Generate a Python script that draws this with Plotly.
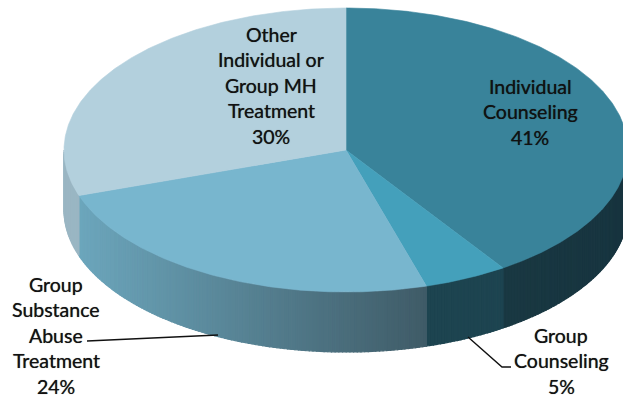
import math
import plotly.graph_objects as go

categories = ["Individual Counseling", "Group Counseling", "Group Substance Abuse Treatment", "Other Individual or Group MH Treatment"]
shares = [40.6, 4.8, 24.4, 30.2]
top_colors = ["#39839A", "#44A0BB", "#78B6CE", "#B3D0DD"]
wall_left = ["#193842", "#1D4450", "#6CA6BC", "#9AB6C3"]
wall_right = ["#17343F", "#1D4450", "#3F5B67", "#9AB6C3"]
label_lines = [
    ["Individual", "Counseling"],
    ["Group", "Counseling"],
    ["Group", "Substance", "Abuse", "Treatment"],
    ["Other", "Individual or", "Group MH", "Treatment"],
]
label_x = [530, 561, 56, 271]
label_y_start = [86, 335, 284, 34]
line_step = 25.6

CX, CY, RX, RY, DEPTH = 346, 150, 282, 142, 60


def pt(deg, dy=0):
    a = math.radians(deg)
    return CX + RX * math.sin(a), CY - RY * math.cos(a) + dy


def mix(c1, c2, t):
    a = [int(c1[i:i + 2], 16) for i in (1, 3, 5)]
    b = [int(c2[i:i + 2], 16) for i in (1, 3, 5)]
    return "#%02X%02X%02X" % tuple(round(p + (q - p) * t) for p, q in zip(a, b))


def arc(a0, a1, n=None, dy=0):
    n = n or max(2, int(abs(a1 - a0)) * 2)
    return [pt(a0 + (a1 - a0) * i / n, dy) for i in range(n + 1)]


def poly(fig, pts, color, width=0.6):
    fig.add_trace(go.Scatter(
        x=[p[0] for p in pts] + [pts[0][0]],
        y=[p[1] for p in pts] + [pts[0][1]],
        mode="lines", fill="toself", fillcolor=color,
        line=dict(color=color, width=width),
        hoverinfo="skip", showlegend=False,
    ))


fig = go.Figure()
total = sum(shares)
edges = [0]
for s in shares:
    edges.append(edges[-1] + 360 * s / total)

# front walls (visible part of the rim, 90..270 degrees clockwise from top)
for i in range(len(shares)):
    lo, hi = max(edges[i], 90), min(edges[i + 1], 270)
    if hi <= lo:
        continue
    x_a, x_b = pt(lo)[0], pt(hi)[0]
    x_min, x_max = min(x_a, x_b), max(x_a, x_b)
    strips = max(1, int((hi - lo) / 0.75))
    for k in range(strips):
        a0 = lo + (hi - lo) * k / strips
        a1 = lo + (hi - lo) * (k + 1) / strips
        xm = (pt(a0)[0] + pt(a1)[0]) / 2
        t = (xm - x_min) / (x_max - x_min) if x_max > x_min else 0
        poly(fig, arc(a0, a1, 2) + arc(a1, a0, 2, DEPTH), mix(wall_left[i], wall_right[i], t), 1.2)

# top faces
for i in range(len(shares)):
    poly(fig, [(CX, CY)] + arc(edges[i], edges[i + 1]), top_colors[i])

# leader lines
fig.add_trace(go.Scatter(x=[87, 218], y=[341, 335], mode="lines",
                         line=dict(color="#111111", width=1.4), hoverinfo="skip", showlegend=False))
fig.add_trace(go.Scatter(x=[468, 502, 511], y=[337, 367, 367], mode="lines",
                         line=dict(color="#111111", width=1.4), hoverinfo="skip", showlegend=False))

# labels
for i, lines in enumerate(label_lines):
    all_lines = lines + [f"{round(shares[i])}%"]
    for j, txt in enumerate(all_lines):
        fig.add_annotation(x=label_x[i], y=label_y_start[i] + j * line_step, text=txt,
                           showarrow=False, xanchor="center", yanchor="middle",
                           font=dict(family="Lato", size=19.5, color="#111111",
                                     shadow="0 0 0.7px rgba(0,0,0,0.7)"))

fig.update_layout(
    width=623, height=402, margin=dict(l=0, r=0, t=0, b=0),
    paper_bgcolor="white", plot_bgcolor="white", showlegend=False,
    xaxis=dict(range=[0, 623], visible=False, fixedrange=True),
    yaxis=dict(range=[402, 0], visible=False, fixedrange=True),
)
fig.write_html("out.html", config={"displayModeBar": False},
               post_script="document.body.style.margin='0';document.documentElement.style.overflow='hidden';")
